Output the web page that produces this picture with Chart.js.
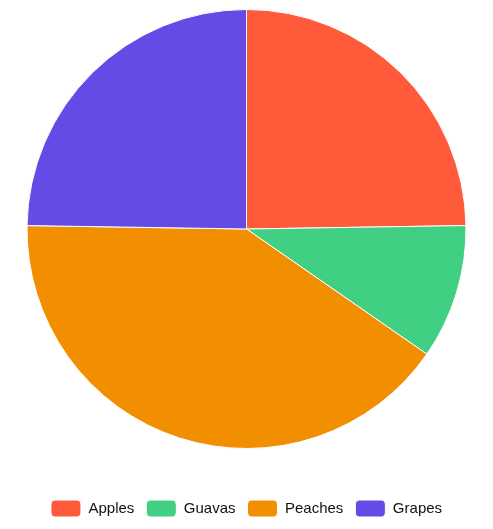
<!DOCTYPE html>
<html>
<head>
<meta charset="utf-8">
<script src="https://cdn.jsdelivr.net/npm/chart.js@4"></script>
<style>
html,body{margin:0;padding:0;background:#fff;}
#wrap{width:493px;height:529px;position:relative;}
</style>
</head>
<body>
<div id="wrap"><canvas id="c"></canvas></div>
<script>
const categories = ["Apples", "Guavas", "Peaches", "Grapes"];
const values = [25, 10, 41, 25];
const colors = ["#FF5A3A", "#41CF84", "#F28F00", "#644BE6"];

new Chart(document.getElementById('c'), {
  type: 'pie',
  data: {
    labels: categories,
    datasets: [{
      data: values,
      backgroundColor: colors,
      borderColor: '#ffffff',
      borderWidth: 1
    }]
  },
  options: {
    responsive: true,
    maintainAspectRatio: false,
    animation: false,
    layout: { padding: { top: 9, bottom: 2 } },
    plugins: {
      legend: {
        position: 'bottom',
        title: {
          display: true,
          text: '',
          font: { size: 10, lineHeight: 1 },
          padding: { top: 0, bottom: 29 }
        },
        labels: {
          font: { family: 'Arial, "Liberation Sans", sans-serif', size: 15 },
          color: '#111',
          boxWidth: 30,
          boxHeight: 17,
          useBorderRadius: true,
          borderRadius: 4,
          padding: 12
        }
      },
      tooltip: { enabled: false }
    }
  }
});
</script>
</body>
</html>
